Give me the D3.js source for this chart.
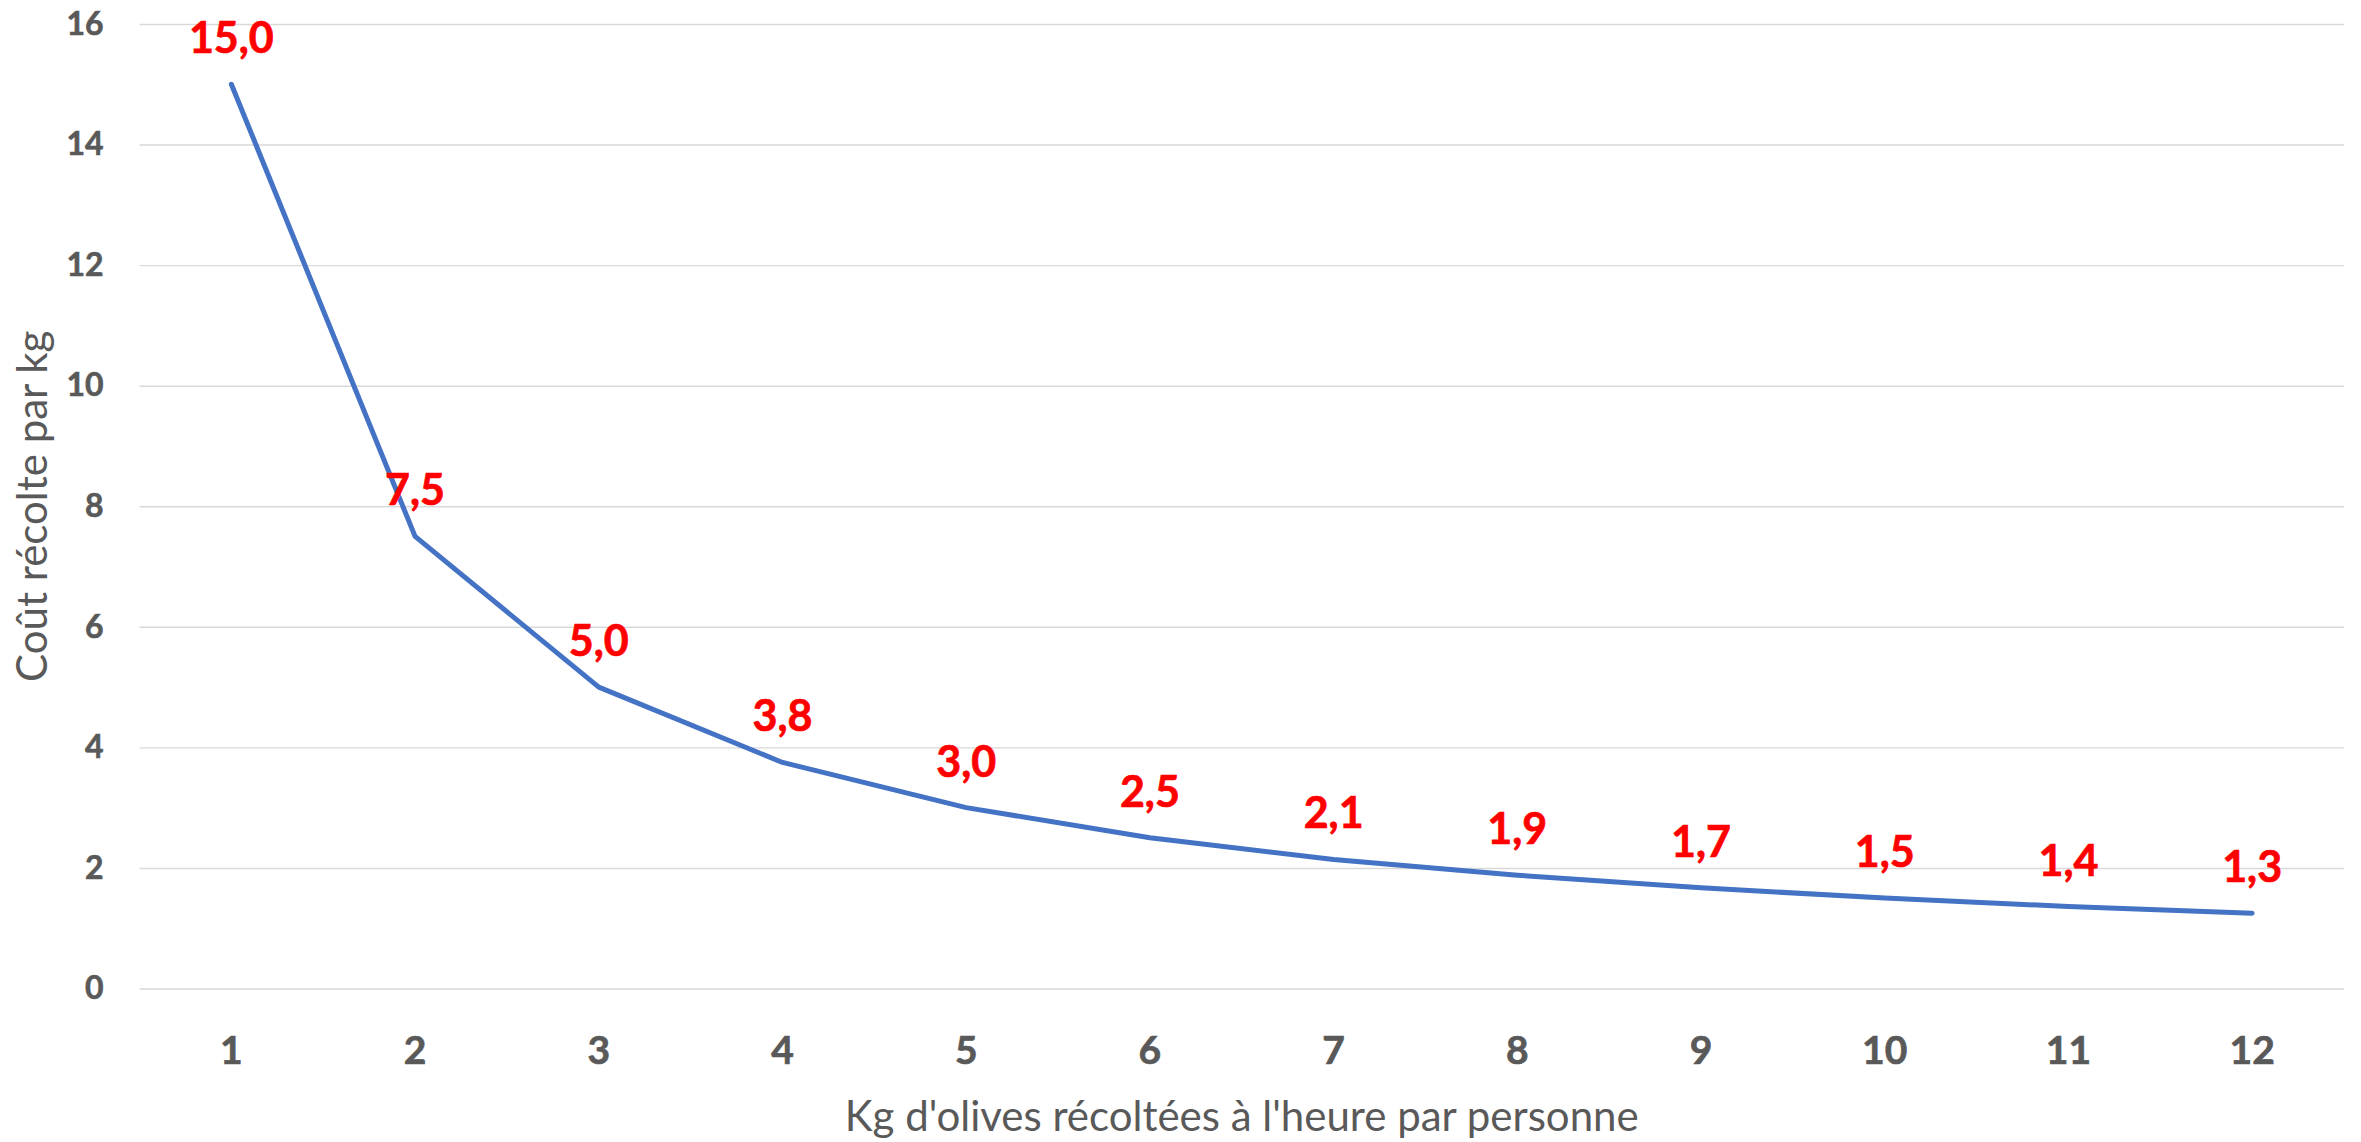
<!DOCTYPE html>
<html>
<head>
<meta charset="utf-8">
<script src="https://cdn.jsdelivr.net/npm/d3@7"></script>
<style>
  html, body { margin: 0; padding: 0; background: #fff; }
  svg { display: block; }
</style>
</head>
<body>
<svg id="chart" width="2361" height="1142"></svg>
<script>
// ---- data ----
const categories = ["1","2","3","4","5","6","7","8","9","10","11","12"];
const costPerKg = [15, 7.5, 5, 3.75, 3, 2.5, 2.14, 1.88, 1.67, 1.5, 1.36, 1.25];
const yTicks = [0, 2, 4, 6, 8, 10, 12, 14, 16];
const xTitle = "Kg d'olives récoltées à l'heure par personne";
const yTitle = "Coût récolte par kg";

// ---- layout ----
const W = 2361, H = 1142;
const plot = { left: 139.5, right: 2344, top: 24, bottom: 988.5 };
const gray = "#595959";
const FONT = "Lato, 'Open Sans', sans-serif";

const svg = d3.select("#chart");

const x = d3.scaleBand().domain(categories).range([plot.left, plot.right]).padding(0);
const y = d3.scaleLinear().domain([0, 16]).range([plot.bottom, plot.top]);
const cx = c => x(c) + x.bandwidth() / 2;

// gridlines + y tick labels
const yAxis = d3.axisLeft(y)
  .tickValues(yTicks)
  .tickSize(-(plot.right - plot.left))
  .tickPadding(36)
  .tickFormat(d3.format("d"));
const gy = svg.append("g")
  .attr("transform", `translate(${plot.left},0)`)
  .call(yAxis);
gy.select(".domain").remove();
gy.selectAll(".tick line").attr("stroke", "#d9d9d9").attr("stroke-width", 1.4);
gy.selectAll(".tick text")
  .attr("fill", gray)
  .attr("stroke", gray)
  .attr("stroke-width", 0.6)
  .style("font-family", FONT)
  .style("font-weight", "bold")
  .style("font-size", "32px");

// x tick labels
const xAxis = d3.axisBottom(x).tickSize(0).tickPadding(0);
const gx = svg.append("g")
  .attr("transform", `translate(0,${plot.bottom})`)
  .call(xAxis);
gx.select(".domain").remove();
gx.selectAll(".tick text")
  .attr("y", 1064 - plot.bottom)
  .attr("dy", 0)
  .attr("fill", gray)
  .attr("stroke", gray)
  .attr("stroke-width", 0.7)
  .style("font-family", FONT)
  .style("font-weight", "bold")
  .style("font-size", "39px");

// line
const data = categories.map((c, i) => ({ c, v: costPerKg[i] }));
const line = d3.line().x(d => cx(d.c)).y(d => y(d.v));
svg.append("path")
  .datum(data)
  .attr("d", line)
  .attr("fill", "none")
  .attr("stroke", "#4472C4")
  .attr("stroke-width", 5)
  .attr("stroke-linecap", "round")
  .attr("stroke-linejoin", "round");

// data labels
const fmt = v => d3.format(".1f")(v).replace(".", ",");
svg.append("g").selectAll("text")
  .data(data)
  .join("text")
  .attr("x", d => cx(d.c))
  .attr("y", d => y(d.v) - 31)
  .attr("text-anchor", "middle")
  .attr("fill", "#FF0000")
  .attr("stroke", "#FF0000")
  .attr("stroke-width", 0.7)
  .style("font-family", FONT)
  .style("font-weight", "bold")
  .style("font-size", "43px")
  .text(d => fmt(d.v));

// axis titles
svg.append("text")
  .attr("x", (plot.left + plot.right) / 2)
  .attr("y", 1131)
  .attr("text-anchor", "middle")
  .attr("fill", gray)
  .style("font-family", FONT)
  .style("font-size", "42px")
  .text(xTitle);

svg.append("text")
  .attr("transform", `translate(47,${(plot.top + plot.bottom) / 2}) rotate(-90)`)
  .attr("text-anchor", "middle")
  .attr("fill", gray)
  .style("font-family", FONT)
  .style("font-size", "42px")
  .text(yTitle);
</script>
</body>
</html>
